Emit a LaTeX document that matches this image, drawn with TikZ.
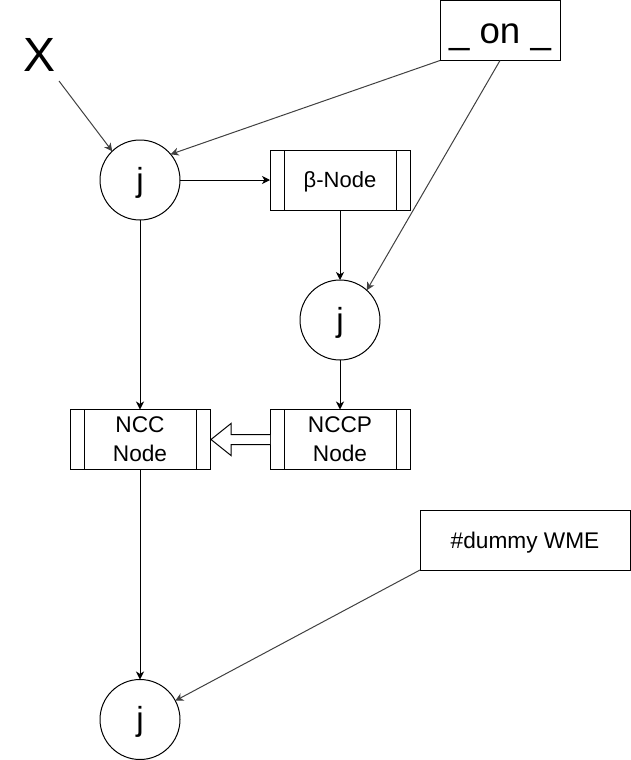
\documentclass[tikz,border=0pt]{standalone}
\usepackage{fontspec}
\setmainfont{Liberation Sans}
\usetikzlibrary{arrows.meta,calc}
\begin{document}
\begin{tikzpicture}[x=0.75pt,y=-0.75pt,
  every node/.style={inner sep=0pt, outer sep=0pt},
  circ/.style={draw, circle, minimum size=60pt, line width=0.75pt, font=\fontsize{25}{30}\selectfont, text height=18pt, text depth=1pt},
  box/.style={draw, rectangle, line width=0.75pt, minimum height=45pt, align=center},
  proc/.style={box, minimum width=105pt,
    path picture={\draw[line width=0.75pt]
      ([xshift=10.5pt]path picture bounding box.north west) -- ([xshift=10.5pt]path picture bounding box.south west)
      ([xshift=-10.5pt]path picture bounding box.north east) -- ([xshift=-10.5pt]path picture bounding box.south east);}},
  arr/.style={line width=0.75pt, -{Stealth[length=6pt,width=6pt,inset=1.8pt]}},
  slant/.style={arr, draw=black!75},
  hollow/.style={line width=0.75pt, fill=white, line join=miter}
]
\useasboundingbox (0,0) rectangle (631,760);

\node[font=\fontsize{36}{40}\selectfont] (xl) at (40,55) {X};
\coordinate (xs) at (59,81);
\node[box, minimum width=90pt, font=\fontsize{27.5}{32}\selectfont, text height=20pt, text depth=0pt] (on) at (500,30.5) {\_ on \_};

\node[circ] (j1) at (140,180) {j};
\node[proc, font=\fontsize{16.5}{19}\selectfont, text depth=0.5pt] (beta) at (340,180) {β-Node};
\node[circ] (j2) at (340,320) {j};
\node[proc, font=\fontsize{17}{22}\selectfont] (ncc) at (140,439.5) {NCC\\Node};
\node[proc, font=\fontsize{17}{22}\selectfont] (nccp) at (340,439.5) {NCCP\\Node};
\node[box, minimum width=157.5pt, font=\fontsize{17}{20}\selectfont, text depth=0pt] (dummy) at (525,540) {\#dummy WME};
\node[circ] (j3) at (140,719.5) {j};

\draw[slant] (xs) -- (j1.134);
\draw[slant] (on.south west) -- (j1.40);
\draw[slant] (on.south) -- (j2.48);
\draw[arr] (j1) -- (beta);
\draw[arr] (beta) -- (j2);
\draw[arr] (j2) -- (nccp);
\draw[arr] (j1) -- (ncc);
\draw[arr] (ncc) -- (j3);
\draw[slant] (dummy.south west) -- (j3.28);

\draw[hollow] ($(nccp.west)+(0,-5)$) -- ($(ncc.east)+(21,-5)$) -- ($(ncc.east)+(21,-16)$)
  -- ($(ncc.east)+(1,0)$) -- ($(ncc.east)+(21,16)$) -- ($(ncc.east)+(21,5)$) -- ($(nccp.west)+(0,5)$);
\end{tikzpicture}
\end{document}
